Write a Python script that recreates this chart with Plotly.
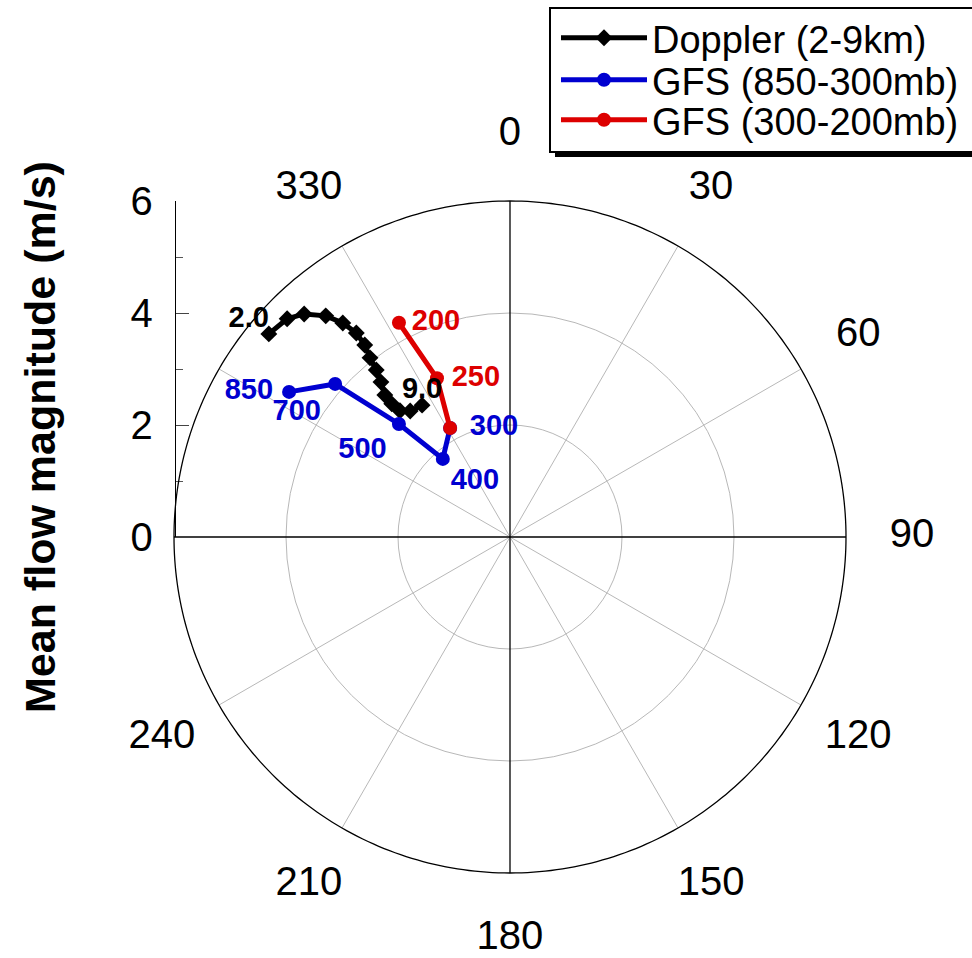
import plotly.graph_objects as go

# Doppler mean flow, 2-9 km (speed m/s, direction deg)
doppler_r = [5.63, 5.57, 5.42, 5.14, 4.85, 4.56, 4.30, 4.06, 3.82, 3.60, 3.38, 3.18, 2.99, 2.87, 2.83]
doppler_theta = [310.1, 314.4, 317.3, 320.2, 322.0, 323.0, 322.9, 322.0, 321.3, 320.2, 318.6, 318.4, 318.9, 321.6, 326.3]
doppler_text = ["2.0"] + [""] * 13 + ["9.0"]

# GFS 850-300 mb
gfs_low_levels = ["850", "700", "500", "400", "300"]
gfs_low_r = [4.72, 4.15, 2.83, 1.84, 2.22]
gfs_low_theta = [303.3, 311.2, 315.5, 319.3, 331.2]

# GFS 300-200 mb
gfs_high_levels = ["", "250", "200"]
gfs_high_r = [2.22, 3.12, 4.31]
gfs_high_theta = [331.2, 335.3, 332.6]

# compass settings
angle_ticks = [0, 30, 60, 90, 120, 150, 180, 210, 240, 270, 300, 330]
angle_labels = ["0", "30", "60", "90", "120", "150", "180", "210", "240", "", "", "330"]
r_max = 6            # outer ring of the plot
ring_levels = [2, 4]  # inner rings
major_spokes = [0, 90]           # black cross through the centre
minor_spokes = [30, 60, 120, 150]  # grey spokes through the centre

FONT = "Liberation Sans, Arial, Helvetica, sans-serif"
BLACK = "#000000"
GREY = "#b8b8b8"
BLUE = "#0000d0"
RED = "#dd0000"
LABEL_SIZE = 29
ANGLE_LABEL_R = 7.18  # compass labels sit outside the outer ring
R_VIEW = 7.45         # radial extent of the polar frame (room for labels)

W, H = 972, 958
CX, CY = 510, 537     # centre of the compass, px
PX_PER_UNIT = 56


def spoke_trace(angles, color, width):
    r, theta = [], []
    for a in angles:
        r += [r_max, r_max, None]
        theta += [a, a + 180, None]
    return go.Scatterpolar(r=r, theta=theta, mode="lines",
                           line=dict(color=color, width=width),
                           showlegend=False, hoverinfo="skip")


fig = go.Figure()

fig.add_trace(spoke_trace(minor_spokes, GREY, 1))
fig.add_trace(spoke_trace(major_spokes, BLACK, 1.3))

# outer ring
ring_theta = list(range(0, 361))
fig.add_trace(go.Scatterpolar(
    r=[r_max] * len(ring_theta), theta=ring_theta, mode="lines",
    line=dict(color=BLACK, width=1.3), showlegend=False, hoverinfo="skip",
))

# compass direction labels, centred on a circle outside the ring
fig.add_trace(go.Scatterpolar(
    r=[ANGLE_LABEL_R] * len(angle_ticks), theta=angle_ticks, mode="text",
    text=angle_labels, textposition="middle center",
    textfont=dict(family=FONT, size=40, color=BLACK),
    cliponaxis=False, showlegend=False, hoverinfo="skip",
))

fig.add_trace(go.Scatterpolar(
    r=doppler_r, theta=doppler_theta, mode="lines+markers",
    name="Doppler (2-9km)", legend="legend",
    line=dict(color=BLACK, width=5),
    marker=dict(symbol="diamond", size=13, color=BLACK),
))

fig.add_trace(go.Scatterpolar(
    r=gfs_low_r, theta=gfs_low_theta, mode="lines+markers",
    name="GFS (850-300mb)", legend="legend2",
    line=dict(color=BLUE, width=5),
    marker=dict(symbol="circle", size=14, color=BLUE),
))

fig.add_trace(go.Scatterpolar(
    r=gfs_high_r, theta=gfs_high_theta, mode="lines+markers",
    name="GFS (300-200mb)", legend="legend3",
    line=dict(color=RED, width=5),
    marker=dict(symbol="circle", size=14, color=RED),
))


def label_trace(r, theta, text, positions, gaps, color):
    """Text labels at the data points; an invisible marker of size `gaps`
    sets how far each label sits from its point."""
    return go.Scatterpolar(
        r=r, theta=theta, mode="markers+text", text=text,
        textposition=positions,
        marker=dict(size=gaps, opacity=0, color=color),
        textfont=dict(family=FONT, size=LABEL_SIZE, color=color, weight="bold"),
        cliponaxis=False, showlegend=False, hoverinfo="skip",
    )


fig.add_trace(label_trace(
    doppler_r, doppler_theta, doppler_text,
    ["top left"] + ["top center"] * 14, [0] * 15, BLACK,
))
fig.add_trace(label_trace(
    gfs_low_r, gfs_low_theta, gfs_low_levels,
    ["middle left", "bottom left", "bottom left", "bottom right", "middle right"],
    [24, 21, 18, 11, 30], BLUE,
))
fig.add_trace(label_trace(
    gfs_high_r, gfs_high_theta, gfs_high_levels,
    ["middle right", "middle right", "middle right"],
    [0, 22, 19], RED,
))

# carrier trace for the magnitude scale drawn beside the polar plot
fig.add_trace(go.Scatter(
    x=[0], y=[0], mode="markers", marker=dict(opacity=0),
    showlegend=False, hoverinfo="skip",
))


def legend_row(y_px):
    return dict(
        x=556 / W, y=1 - y_px / H, xanchor="left", yanchor="middle",
        bgcolor="rgba(0,0,0,0)", borderwidth=0,
        font=dict(size=38, family=FONT, color=BLACK),
        itemwidth=86,
    )


half = R_VIEW * PX_PER_UNIT
fig.update_layout(
    width=W, height=H,
    margin=dict(l=0, r=0, t=0, b=0, autoexpand=False),
    paper_bgcolor="white", plot_bgcolor="rgba(0,0,0,0)",
    font=dict(family=FONT, color=BLACK),
    polar=dict(
        domain=dict(x=[(CX - half) / W, (CX + half) / W],
                    y=[(H - CY - half) / H, (H - CY + half) / H]),
        bgcolor="rgba(0,0,0,0)",
        radialaxis=dict(
            range=[0, R_VIEW], tickvals=ring_levels, showticklabels=False,
            ticks="", showline=False, gridcolor=GREY, gridwidth=1,
        ),
        angularaxis=dict(
            rotation=90, direction="clockwise",
            showticklabels=False, ticks="", showgrid=False, showline=False,
        ),
    ),
    xaxis=dict(visible=False, range=[0, 1], domain=[175 / W, 180 / W], anchor="y"),
    yaxis=dict(
        range=[0, r_max],
        domain=[(H - CY) / H, (H - CY + r_max * PX_PER_UNIT) / H],
        anchor="free", position=175 / W,
        tickvals=[0, 2, 4, 6], ticks="inside", ticklen=13, tickwidth=1.3,
        minor=dict(dtick=1, ticks="inside", ticklen=7, tickwidth=1, tickcolor="#555555"),
        showline=True, linecolor=BLACK, linewidth=1.3,
        showgrid=False, zeroline=False,
        tickfont=dict(size=40, family=FONT, color=BLACK),
        ticklabelstandoff=14,
    ),
    annotations=[dict(
        text="<b>Mean flow magnitude (m/s)</b>", textangle=-90,
        xref="paper", yref="paper", x=40 / W, y=1 - 437 / H,
        xanchor="center", yanchor="middle", showarrow=False,
        font=dict(size=43, family=FONT, color=BLACK),
    )],
    legend=legend_row(38),
    legend2=legend_row(80),
    legend3=legend_row(120),
    shapes=[
        # drop shadow and frame of the legend box
        dict(type="rect", xref="paper", yref="paper",
             x0=555 / W, x1=1.05, y0=1 - 157 / H, y1=1 - 13 / H,
             fillcolor=BLACK, line=dict(width=0), layer="below"),
        dict(type="rect", xref="paper", yref="paper",
             x0=550 / W, x1=1.05, y0=1 - 152 / H, y1=1 - 8 / H,
             fillcolor="white", line=dict(color=BLACK, width=2), layer="below"),
    ],
    showlegend=True,
)

fig.write_html("out.html")
